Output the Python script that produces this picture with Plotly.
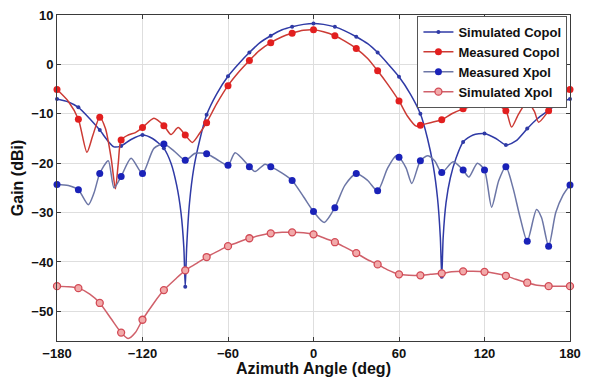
import plotly.graph_objects as go

# ---------------- data ----------------
sc_angle = [-180, -172, -165, -157, -150, -144, -140, -135, -128, -120, -113, -105, -100, -96, -93, -91, -90,
            -89, -87, -84, -80, -75, -68, -60, -52, -45, -38, -30, -22, -15, -7, 0, 7, 15, 22, 30, 38, 45,
            52, 60, 68, 75, 80, 84, 87, 89, 90, 91, 93, 96, 100, 105, 112, 120, 128, 135, 142, 150, 157,
            165, 172, 180]
sc_gain = [-7.0, -7.6, -8.7, -11.0, -13.3, -15.6, -16.7, -16.5, -15.2, -14.3, -15.0, -17.0, -20.0, -24.5, -30.0,
           -37.0, -45.0, -37.0, -28.0, -21.0, -15.5, -10.2, -6.0, -2.4, 0.3, 2.4, 4.3, 5.8, 7.0, 7.6, 8.1, 8.3,
           8.1, 7.6, 6.8, 5.6, 4.2, 2.4, 0.2, -2.5, -6.0, -10.0, -15.0, -20.5, -27.0, -35.0, -43.0, -35.0,
           -28.0, -23.0, -19.0, -15.7, -14.3, -14.0, -15.0, -16.3, -15.5, -13.0, -11.0, -9.3, -7.8, -7.0]

mc_angle = [-180, -172, -165, -159, -155, -150, -146, -142, -139, -137, -135, -130, -125, -120, -112, -105, -100,
            -95, -90, -85, -80, -75, -68, -60, -52, -45, -38, -30, -22, -15, -7, 0, 7, 15, 22, 30, 38, 45, 52,
            60, 66, 72, 75, 82, 90, 97, 105, 112, 120, 128, 135, 139, 144, 150, 155, 158, 165, 172, 180]
mc_gain = [-5.1, -7.5, -11.1, -17.8, -14.5, -10.7, -13.0, -19.0, -25.2, -20.0, -15.3, -14.3, -13.8, -12.8, -10.9,
           -12.4, -14.2, -12.8, -14.3, -15.8, -14.0, -11.8, -8.0, -4.3, -1.4, 0.8, 2.8, 4.4, 5.6, 6.3, 6.9, 7.0,
           6.6, 5.8, 4.7, 3.2, 1.2, -1.3, -4.0, -7.4, -10.5, -12.5, -12.3, -11.8, -11.2, -10.0, -9.0, -8.4,
           -7.8, -8.2, -9.4, -12.7, -10.0, -7.6, -9.5, -11.7, -9.4, -6.8, -5.1]

mx_angle = [-180, -172, -165, -158, -154, -150, -144, -140, -135, -128, -120, -112, -105, -98, -90, -83, -75,
            -68, -60, -55, -45, -41, -34, -30, -22, -15, -7, 0, 7.5, 15, 22, 30, 38, 45, 52, 58, 60, 65, 69,
            75, 80, 85, 90, 98, 105, 109, 115, 120, 125, 130, 135, 140, 145, 150, 156.5, 160, 165, 170, 175, 180]
mx_gain = [-24.3, -24.5, -25.4, -28.4, -26.0, -22.1, -19.5, -25.0, -22.7, -19.0, -22.1, -17.0, -16.1, -17.5,
           -19.4, -18.0, -18.1, -19.2, -20.4, -17.9, -20.7, -21.7, -20.2, -20.7, -22.0, -23.5, -26.8, -29.8,
           -32.0, -29.0, -24.5, -22.1, -23.5, -25.6, -21.0, -18.5, -18.8, -21.0, -24.1, -19.5, -18.5, -19.5,
           -21.9, -19.7, -21.4, -22.8, -20.0, -21.4, -28.9, -23.5, -20.7, -25.0, -31.0, -35.8, -29.4, -31.0,
           -36.8, -30.0, -26.5, -24.4]

sx_angle = [-180, -172, -165, -157, -150, -142, -135, -130, -125, -120, -112, -105, -97, -90, -82, -75, -67,
            -60, -52, -45, -37, -30, -22, -15, -7, 0, 7, 15, 22, 30, 37, 45, 52, 60, 67, 75, 82, 90, 97, 105,
            112, 120, 127, 135, 142, 150, 157, 165, 172, 180]
sx_gain = [-44.9, -45.0, -45.3, -46.5, -48.3, -51.5, -54.3, -55.5, -54.3, -51.7, -48.3, -45.7, -43.5, -41.7,
           -40.3, -39.0, -37.8, -36.8, -35.9, -35.2, -34.6, -34.2, -34.0, -34.0, -34.1, -34.4, -35.1, -36.0,
           -37.0, -38.2, -39.4, -40.5, -41.6, -42.5, -42.7, -42.7, -42.5, -42.3, -42.0, -41.9, -41.9, -42.0,
           -42.3, -42.8, -43.5, -44.2, -44.7, -44.9, -44.9, -44.9]

x_ticks = [-180, -120, -60, 0, 60, 120, 180]
y_ticks = [-50, -40, -30, -20, -10, 0, 10]
marker_step = 15

series = [
    ("Simulated Copol", sc_angle, sc_gain,
     dict(color="#2f3aa6", width=1.5),
     dict(symbol="circle", size=4, color="#2f3aa6")),
    ("Measured Copol", mc_angle, mc_gain,
     dict(color="#cc3a34", width=1.5),
     dict(symbol="circle", size=7, color="#e21f1f")),
    ("Measured Xpol", mx_angle, mx_gain,
     dict(color="#6c76a6", width=1.5),
     dict(symbol="circle", size=7, color="#1a22b8")),
    ("Simulated Xpol", sx_angle, sx_gain,
     dict(color="#d0606a", width=1.5),
     dict(symbol="circle", size=7, color="#f2aaaa", line=dict(color="#d24a55", width=1.3))),
]

fig = go.Figure()
for name, ang, gain, ln, mk in series:
    fig.add_trace(go.Scatter(x=ang, y=gain, mode="lines", line=dict(shape="spline", smoothing=0.7, **ln),
                             showlegend=False, hoverinfo="skip"))
    mxs = [a for a in ang if a % marker_step == 0]
    mys = [g for a, g in zip(ang, gain) if a % marker_step == 0]
    fig.add_trace(go.Scatter(x=mxs, y=mys, mode="markers", marker=mk, showlegend=False, name=name,
                             cliponaxis=False))

# legend entries
for name, ang, gain, ln, mk in series:
    fig.add_trace(go.Scatter(x=[None], y=[None], mode="lines+markers", line=ln, marker=mk, name=name))

axis_common = dict(showline=True, linecolor="#3a3a3a", linewidth=1, mirror="ticks", ticks="inside",
                   ticklen=4, tickcolor="#3a3a3a", showgrid=True, gridcolor="#dedede", gridwidth=1,
                   zeroline=False, automargin=True, ticklabeloverflow="allow",
                   tickfont=dict(family="Liberation Sans, Arial", size=13, color="#111", weight="bold"))

# the page body adds an 8 px offset around the figure, so the figure is sized to fit the window
fig.update_layout(
    width=573, height=369,
    margin=dict(l=49, r=11, t=7, b=36, autoexpand=False),
    paper_bgcolor="white", plot_bgcolor="white",
    font=dict(family="Liberation Sans, Arial", color="#111"),
    xaxis=dict(range=[-180, 180], tickvals=x_ticks,
               title=dict(text="Azimuth Angle (deg)", standoff=2,
                          font=dict(size=16, weight="bold", color="#111")),
               **axis_common),
    yaxis=dict(range=[-56, 10], tickvals=y_ticks,
               title=dict(text="Gain (dBi)", standoff=3,
                          font=dict(size=16, weight="bold", color="#111")),
               **axis_common),
    legend=dict(x=0.995, y=0.997, xanchor="right", yanchor="top", bgcolor="white",
                bordercolor="#555", borderwidth=1, itemwidth=30, tracegroupgap=0,
                font=dict(size=13, weight="bold", color="#111")),
)

fig.write_html("out.html")
